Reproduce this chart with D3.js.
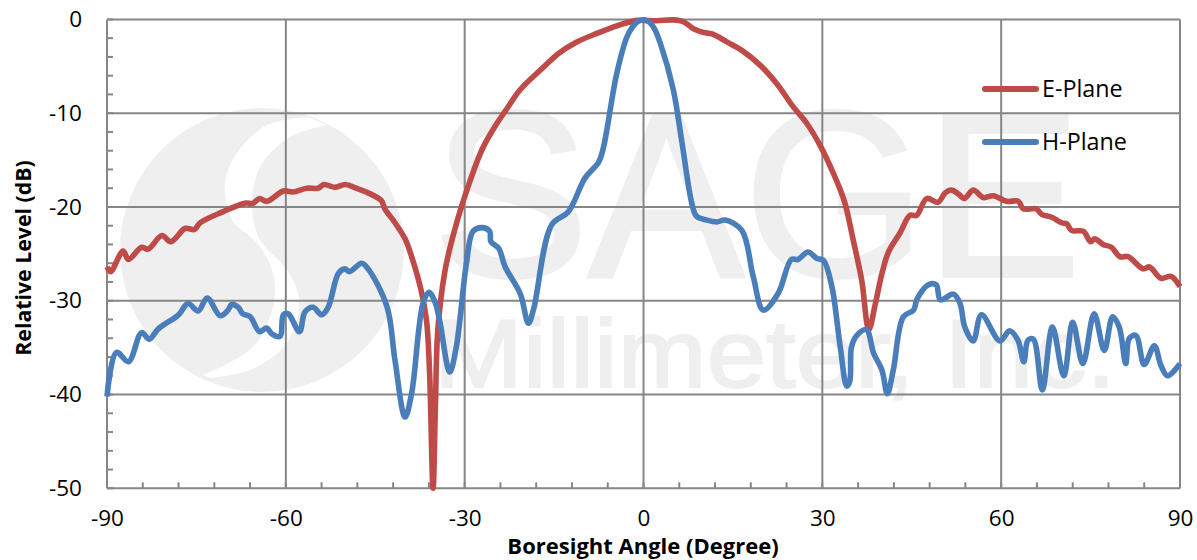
<!DOCTYPE html>
<html><head><meta charset="utf-8">
<script src="https://d3js.org/d3.v7.min.js"></script>
<style>html,body{margin:0;padding:0;background:#fff;overflow:hidden}svg{display:block}text{font-family:"Open Sans","Noto Sans",sans-serif}</style>
</head><body><svg id="c" width="1197" height="560"></svg>
<script>
const xTicks=[-90,-60,-30,0,30,60,90];
const yTicks=[0,-10,-20,-30,-40,-50];
const seriesNames=["E-Plane","H-Plane"];
const xTitle="Boresight Angle (Degree)", yTitle="Relative Level (dB)";
const eAngle=[-90,-89.4,-87.3,-86.4,-84.2,-83.1,-80.8,-79.3,-76.9,-75.3,-74.4,-70.5,-66.9,-65.5,-64.4,-63.2,-60.4,-58.8,-56.5,-54.6,-53.6,-51.8,-50,-48.2,-46.2,-44,-43.4,-42,-40,-38.9,-37.3,-36.4,-35.9,-35.3,-34.9,-34.5,-33.3,-32,-30.2,-27.1,-25.1,-22.9,-20.7,-17.3,-14.2,-11.2,-7.8,-4.5,-2.2,-1.1,0,2.2,5,6.7,8.4,10.1,11.5,14,16.5,19.6,22.3,25.1,27.4,29.6,31.7,33.7,35.2,36.6,37.8,38.9,40,41.1,43,44.7,45.8,47.5,49.4,50.6,51.7,52.8,53.8,55.3,57,58.7,60.9,62.9,63.7,65.9,66.8,68.5,70.2,71,71.8,73.8,75,75.7,77.1,78.5,79.9,81.3,83.8,84.9,86.8,88.5,90];
const eValue=[-26.4,-26.9,-24.7,-25.6,-24.3,-24.5,-23.05,-23.7,-22.3,-22.4,-21.7,-20.5,-19.6,-19.6,-19.1,-19.4,-18.3,-18.4,-18,-18,-17.6,-17.9,-17.6,-18,-18.5,-19.3,-20.2,-21.4,-23.4,-25.3,-28.9,-32.1,-37.4,-50,-41,-33.1,-26.8,-23.2,-19.3,-13.9,-11.6,-9.5,-7.5,-5.4,-3.6,-2.4,-1.5,-0.7,-0.25,-0.1,-0.1,-0.15,-0.05,-0.25,-1,-1.4,-1.55,-2.4,-3.3,-4.9,-6.8,-9.3,-11.1,-13.4,-16.2,-19.4,-23.6,-27.8,-33.1,-30.3,-27.1,-24.8,-22.8,-20.9,-20.9,-19.1,-19.5,-18.5,-18.2,-18.6,-19.1,-18.2,-19,-18.8,-19.4,-19.4,-20.2,-20.2,-20.8,-21.1,-21.7,-21.8,-22.5,-22.6,-23.7,-23.4,-24,-24.3,-25.3,-25.3,-26.6,-26.4,-27.6,-27.4,-28.5];
const hAngle=[-90,-88.4,-86.4,-84.2,-82.9,-81.4,-78,-76.4,-74.7,-73.2,-71,-69.7,-69.1,-68,-67.2,-66,-64.4,-63.2,-62.4,-61,-60.4,-59.6,-57.7,-56.8,-55.4,-54,-52.9,-51.2,-50.1,-49.3,-47.3,-46.2,-43,-41.7,-40,-38.9,-37,-36,-35,-34.2,-32.5,-31.4,-29.7,-28.6,-27.1,-25.8,-25.6,-24.3,-23.2,-20.7,-19.3,-18.4,-15.4,-12.6,-9.8,-7.5,-6.7,-4.5,-2.8,-1.8,-0.9,0,0.9,1.8,2.8,5,6.4,8.1,8.9,10.6,12.3,13.7,16.5,18.4,20.1,22.6,24.8,25.9,27.6,29.1,30.2,31.6,33,34.1,34.6,34.9,35.8,37.4,38.6,40,40.9,41.9,43.6,45.3,45.9,47.8,49.1,49.8,52,53.1,53.9,55.3,56.7,59.8,61.4,62.8,63.8,64.5,65.4,66.9,68.6,70.5,72,73.7,75.6,77.3,78.7,79.8,80.9,81.5,82.6,84,85.7,86.8,87.9,90];
const hValue=[-40.2,-35.5,-36.5,-33.4,-34.1,-33,-31.5,-30.3,-31.1,-29.7,-31.6,-31,-30.4,-30.7,-31.4,-31.7,-33.3,-32.9,-33.5,-33.8,-31.5,-31.4,-33.3,-31.2,-30.7,-31.5,-30.7,-27.1,-26.6,-26.9,-26,-26.6,-30.7,-36.3,-42.4,-39.9,-30.3,-29.1,-30.1,-32.1,-37.6,-34.9,-26,-22.6,-22.2,-22.6,-23.7,-24.4,-26.4,-29.2,-32.4,-30.8,-21.9,-20.5,-16.9,-15.2,-13.6,-5.8,-1.9,-0.75,-0.2,-0.05,-0.25,-0.95,-2.5,-7.5,-12.9,-19.6,-21,-21.4,-21.6,-21.4,-22.5,-27.4,-31,-29.2,-25.6,-25.6,-24.8,-25.5,-25.7,-28.5,-34.9,-39.1,-38.6,-34.9,-33.7,-33.1,-35.6,-37.4,-39.9,-37.4,-31.7,-31,-29.8,-28.3,-28.3,-29.9,-29.3,-30.3,-32.8,-34.3,-31.5,-34.3,-33.2,-34.2,-36.5,-34.2,-34.1,-39.5,-32.8,-38,-32.3,-36.7,-31.4,-35.3,-31.7,-32.8,-36.7,-34,-33.7,-36.8,-34.8,-36.9,-38,-36.7];

const svg=d3.select("#c");
const x=d3.scaleLinear().domain([-90,90]).range([107,1180]);
const y=d3.scaleLinear().domain([-50,0]).range([488.3,19.4]);
const GRID="#868686", RED="#BE4B48", BLUE="#4A7EBB", WM="#efefef";

// watermark
const wm=svg.append("g");
wm.append("circle").attr("cx",262).attr("cy",250).attr("r",142).attr("fill",WM);
const edgeA=[[307,117],[267,125],[237,153],[225,183],[232,220],[257,243],[273,273],[273,307],[253,347],[203,375]];
const edgeB=[[327,125],[290,137],[260,167],[252,207],[260,240],[287,270],[299,300],[287,343],[250,370],[210,378]];
const curve=d3.line().curve(d3.curveCatmullRom);
wm.append("path").attr("fill","#fff").attr("d",curve(edgeA)+"L"+curve(edgeB.slice().reverse()).slice(1)+"Z");
wm.append("text").attr("x",433).attr("y",276).attr("font-size",236).attr("textLength",648).attr("lengthAdjust","spacingAndGlyphs").attr("fill",WM).attr("stroke",WM).attr("stroke-width",4).style("font-family","'Liberation Sans'").text("SAGE");
wm.append("text").attr("x",434).attr("y",387).attr("font-size",96).attr("textLength",682).attr("lengthAdjust","spacingAndGlyphs").attr("fill",WM).attr("stroke",WM).attr("stroke-width",2).style("font-family","'Liberation Sans'").text("Millimeter, Inc.");

// grid
const grid=svg.append("g").attr("stroke",GRID).attr("stroke-width",2);
grid.selectAll(".gx").data(xTicks).join("line").attr("x1",d=>x(d)).attr("x2",d=>x(d)).attr("y1",y(0)).attr("y2",y(-50));
grid.selectAll(".gy").data(yTicks).join("line").attr("y1",d=>y(d)).attr("y2",d=>y(d)).attr("x1",x(-90)).attr("x2",x(90));

// minor ticks
const minorX=d3.range(-90,91,6), minorY=d3.range(-50,1,2);
grid.selectAll(".mx").data(minorX).join("line").attr("x1",d=>x(d)).attr("x2",d=>x(d)).attr("y1",y(-50)).attr("y2",y(-50)-6);
grid.selectAll(".my").data(minorY).join("line").attr("y1",d=>y(d)).attr("y2",d=>y(d)).attr("x1",x(-90)).attr("x2",x(-90)+6);

// axes labels
const ax=svg.append("g").attr("transform",`translate(0,${y(-50)})`).call(d3.axisBottom(x).tickValues(xTicks).tickFormat(String).tickSize(0).tickPadding(22));
const ay=svg.append("g").attr("transform",`translate(${x(-90)},0)`).call(d3.axisLeft(y).tickValues(yTicks).tickFormat(String).tickSize(0).tickPadding(25));
[ax,ay].forEach(a=>{a.select(".domain").remove();a.selectAll("text").attr("font-size",22.5).style("font-family","'Open Sans'").attr("fill","#000");});

// series
const line=d3.line().x(d=>x(d[0])).y(d=>y(d[1])).curve(d3.curveCatmullRom.alpha(0.5));
const series=[[eAngle,eValue,RED],[hAngle,hValue,BLUE]];
series.forEach(([a,v,c])=>svg.append("path").attr("fill","none").attr("stroke",c).attr("stroke-width",5.6).attr("stroke-linejoin","round").attr("d",line(a.map((t,i)=>[t,v[i]]))));

// legend
const legY=[89,142];
seriesNames.forEach((n,i)=>{
 svg.append("line").attr("x1",985).attr("x2",1036).attr("y1",legY[i]).attr("y2",legY[i]).attr("stroke",series[i][2]).attr("stroke-width",6).attr("stroke-linecap","round");
 svg.append("text").attr("x",1042).attr("y",legY[i]+8).attr("font-size",23.3).attr("fill","#000").text(n);
});

// titles
svg.append("text").attr("x",643).attr("y",554).attr("text-anchor","middle").attr("font-size",22).attr("font-weight",700).attr("fill","#000").text(xTitle);
svg.append("text").attr("transform","translate(31,258) rotate(-90)").attr("text-anchor","middle").attr("font-size",21.3).attr("font-weight",700).attr("fill","#000").text(yTitle);
</script></body></html>
